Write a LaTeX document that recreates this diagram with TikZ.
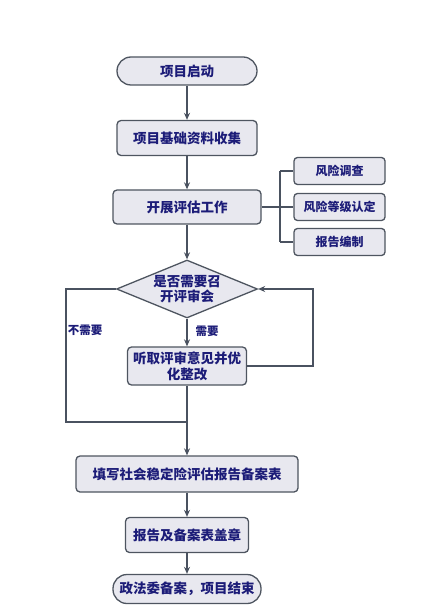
\documentclass[tikz,border=0pt]{standalone}
\usepackage{fontspec}
\newfontfamily\cjk{Noto Sans CJK SC}
\usetikzlibrary{shapes.geometric,arrows.meta}
\definecolor{boxfill}{HTML}{E8E8EF}
\definecolor{boxline}{HTML}{4E5560}
\definecolor{txt}{HTML}{1C1C78}
\definecolor{arr}{HTML}{4A5260}
\tikzset{
  base/.style={draw=boxline, line width=1.3pt, fill=boxfill, text=txt, font=\cjk\bfseries\fontsize{13.5}{16}\selectfont, align=center, inner sep=0pt},
  term/.style={base, rectangle, rounded corners=14pt},
  proc/.style={base, rectangle, rounded corners=4pt},
  side/.style={base, rectangle, rounded corners=3.5pt, minimum width=91pt, minimum height=27pt, font=\cjk\bfseries\fontsize{12}{14}\selectfont},
  dec/.style={base, diamond, aspect=2.43, minimum width=141pt, minimum height=58pt, font=\cjk\bfseries\fontsize{13.5}{15}\selectfont},
  flow/.style={draw=arr, line width=1.4pt, -{Stealth[length=7pt,width=6pt]}},
  conn/.style={draw=arr, line width=1.4pt},
  lbl/.style={text=txt, font=\cjk\bfseries\fontsize{11.5}{13}\selectfont, inner sep=0pt}
}
\begin{document}
\begin{tikzpicture}[x=1pt,y=-1pt]
\useasboundingbox (0,0) rectangle (431,609);
\node[term, minimum width=140pt, minimum height=28pt] (start) at (187,71) {项目启动};
\node[proc, minimum width=140pt, minimum height=35pt] (collect) at (187,138) {项目基础资料收集};
\node[proc, minimum width=148pt, minimum height=34pt] (eval) at (187,207) {开展评估工作};
\node[side] (s1) at (339.5,171) {风险调查};
\node[side] (s2) at (339.5,207) {风险等级认定};
\node[side] (s3) at (339.5,242) {报告编制};
\node[dec] (dec) at (187,289) {是否需要召\\开评审会};
\node[proc, minimum width=119pt, minimum height=38pt] (opt) at (187,366) {听取评审意见并优\\化整改};
\node[proc, minimum width=222pt, minimum height=36pt] (fill) at (187,474) {填写社会稳定险评估报告备案表};
\node[proc, minimum width=123pt, minimum height=35pt] (seal) at (187,535) {报告及备案表盖章};
\node[term, minimum width=148pt, minimum height=29pt] (end) at (187,589) {政法委备案，项目结束};
\coordinate (bj) at (280,207);
\coordinate (b1) at (280,171);
\coordinate (b3) at (280,242);
\coordinate (ll) at (66,289);
\coordinate (lb) at (66,422);
\coordinate (mj) at (187,422);
\coordinate (rb) at (313,366);
\coordinate (rt) at (313,289);
\path[flow] (start) -- (collect);
\path[flow] (collect) -- (eval);
\path[flow] (eval) -- (dec);
\path[flow] (dec) -- (opt) node[lbl, pos=0.45, right=8pt] {需要};
\path[flow] (opt) -- (fill);
\path[flow] (fill) -- (seal);
\path[flow] (seal) -- (end);
\path[conn] (eval.east) -- (bj);
\path[conn] (b1) -- (b3);
\path[conn] (b1) -- (s1.west);
\path[conn] (bj) -- (s2.west);
\path[conn] (b3) -- (s3.west);
\path[conn] (dec.west) -- (ll) -- (lb) -- (mj);
\node[lbl] (no) at (85,330) {不需要};
\path[flow] (opt.east) -- (rb) -- (rt) -- (dec.east);
\end{tikzpicture}
\end{document}
